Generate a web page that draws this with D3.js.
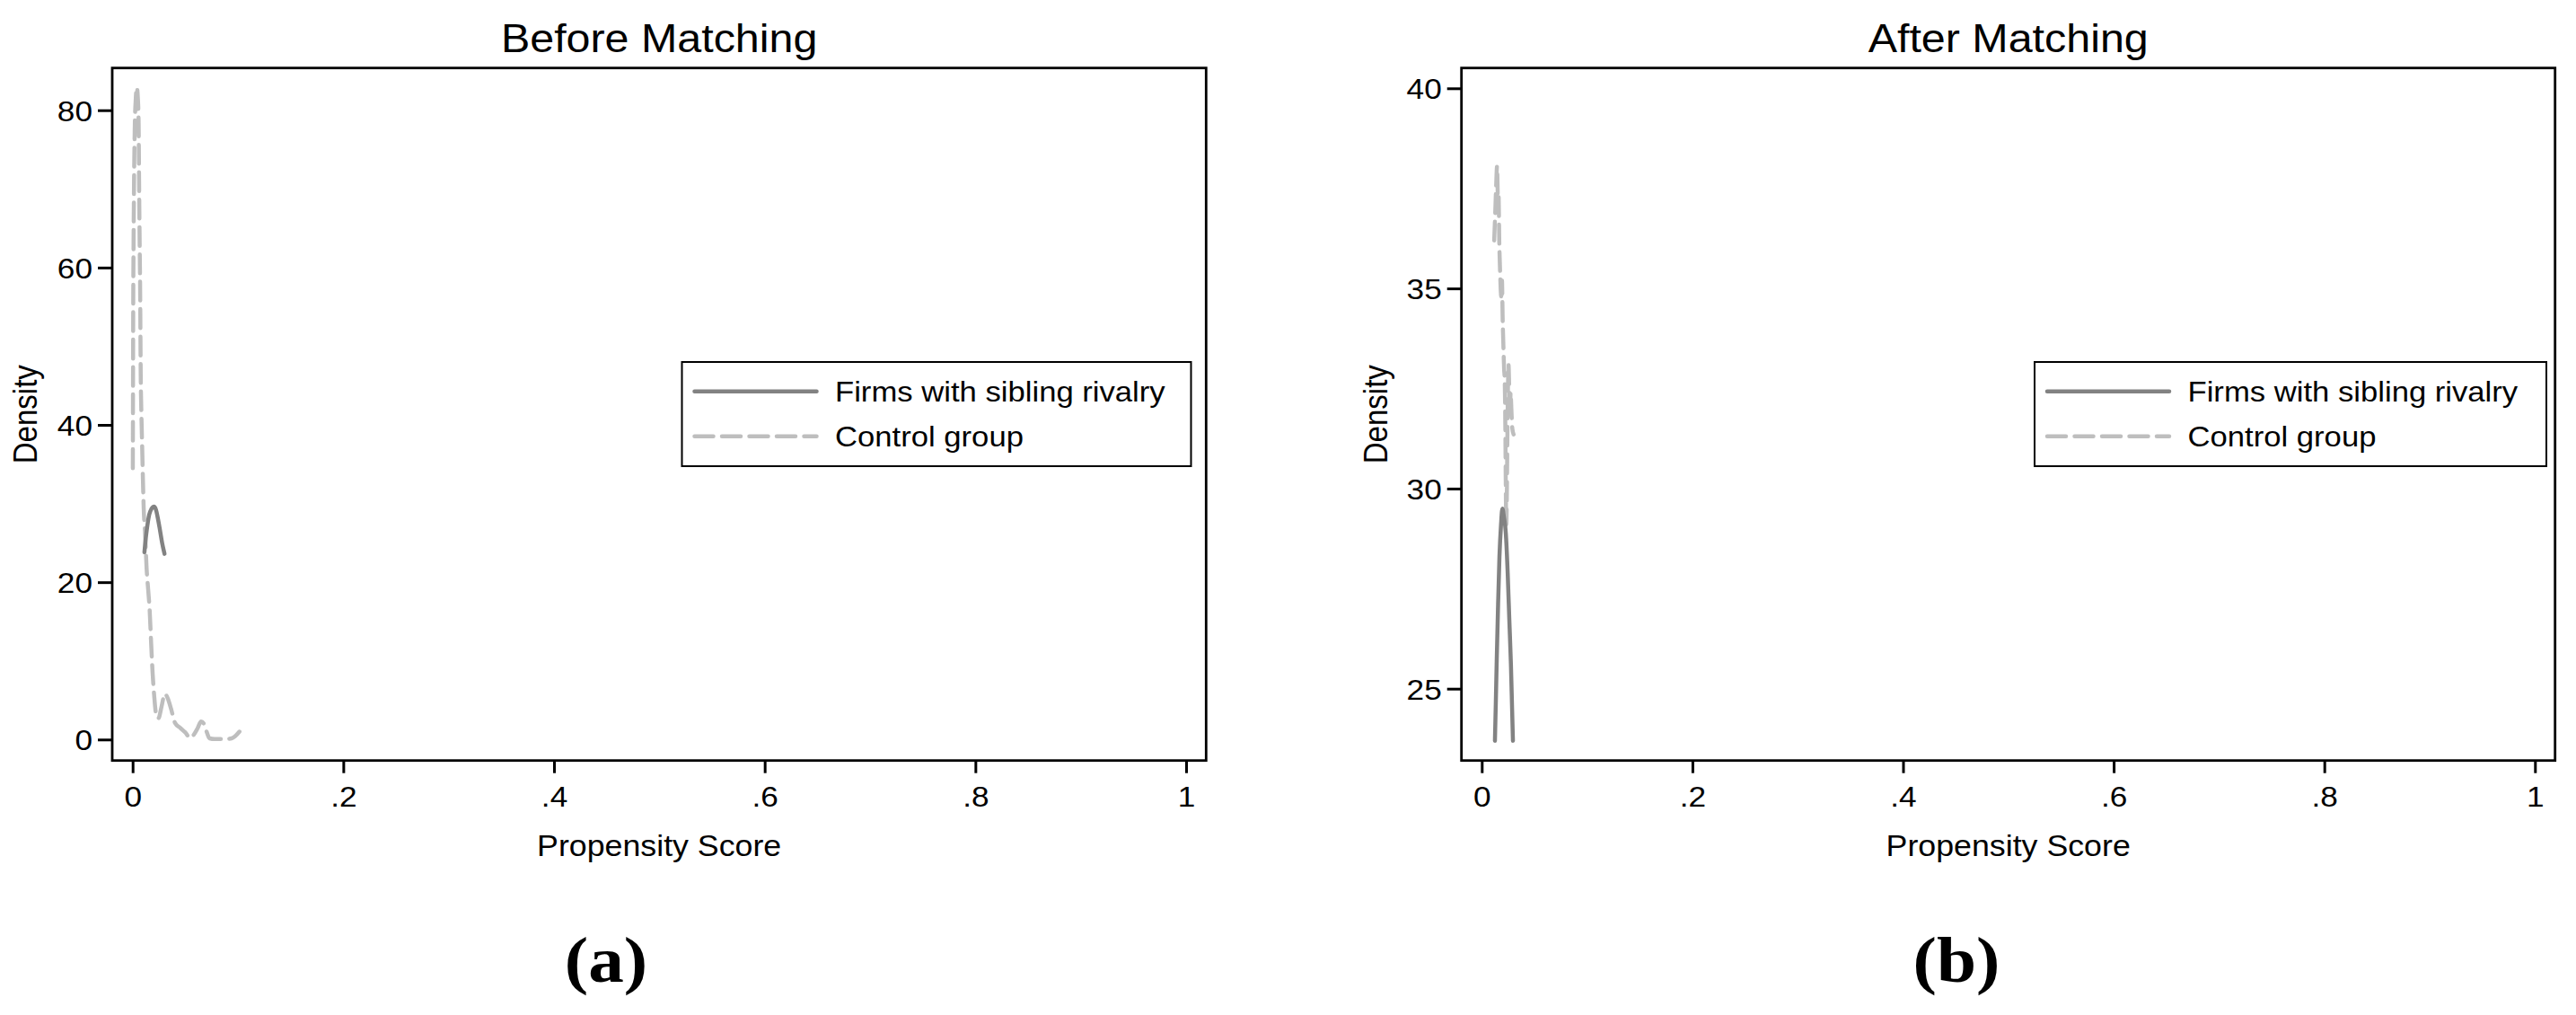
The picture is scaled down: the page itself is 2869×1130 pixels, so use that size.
<!DOCTYPE html>
<html><head><meta charset="utf-8">
<script src="https://cdn.jsdelivr.net/npm/d3@7"></script>
<style>html,body{margin:0;padding:0;background:#fff;} svg{display:block;}</style>
</head><body><svg id="chart" width="2869" height="1130"></svg>
<script>
// ---------------- data ----------------
const xTicks = [0, 0.2, 0.4, 0.6, 0.8, 1];
const xTickLabels = ["0", ".2", ".4", ".6", ".8", "1"];
const yTicksBefore = [0, 20, 40, 60, 80];
const yTicksAfter = [25, 30, 35, 40];
const seriesNames = ["Firms with sibling rivalry", "Control group"];
const panelTitles = ["Before Matching", "After Matching"];
const panelLetters = ["(a)", "(b)"];
const xAxisTitle = "Propensity Score";
const yAxisTitle = "Density";

// [propensity score, density]
const treatedBefore = [[0.0112,23.8],[0.0125,25.6],[0.014,27.2],[0.0158,28.6],[0.0178,29.3],[0.0203,29.6],[0.0222,29.2],[0.024,28.1],[0.026,26.6],[0.028,25.0],[0.0303,23.6]];
const controlBefore = [[0.0002,34.5],[0.0004,46],[0.0006,56],[0.0009,63],[0.0013,70],[0.002,77.5],[0.003,81.5],[0.004,82.9],[0.005,81.5],[0.0057,78.4],[0.0062,70],[0.0067,63],[0.0071,58],[0.0077,46.4],[0.0084,41],[0.009,37.6],[0.0098,33],[0.0105,29.5],[0.0119,26],[0.0133,21.7],[0.0148,19],[0.0162,16.4],[0.0176,12.2],[0.019,8.4],[0.0204,5.7],[0.0222,3.3],[0.0245,2.7],[0.0275,4.2],[0.0305,5.8],[0.0335,5.2],[0.0365,3.9],[0.0403,2.1],[0.045,1.5],[0.05,0.9],[0.0545,0.2],[0.058,0.6],[0.0616,1.4],[0.065,2.3],[0.068,1.9],[0.0705,0.9],[0.073,0.15],[0.078,0.05],[0.0886,0.07],[0.094,0.15],[0.0972,0.4],[0.1014,1.0]];
const treatedAfter = [[0.0125,23.7],[0.0133,24.6],[0.0142,25.7],[0.0155,27.1],[0.0168,28.3],[0.0183,29.1],[0.0196,29.5],[0.021,29.3],[0.0228,28.9],[0.0246,27.9],[0.0262,26.7],[0.0277,25.6],[0.0287,24.6],[0.0296,23.7]];
const controlAfter = [[0.0118,36.2],[0.0128,36.9],[0.0137,37.6],[0.0145,38.05],[0.015,37.6],[0.0155,36.9],[0.016,37.3],[0.0166,36.2],[0.0172,35.6],[0.0178,35.1],[0.0185,34.8],[0.0192,35.2],[0.0198,34.3],[0.0205,33.6],[0.0212,33.0],[0.0218,32.7],[0.0224,31.5],[0.0229,29.8],[0.0233,29.1],[0.0238,29.8],[0.0243,31.2],[0.0248,32.4],[0.0254,33.1],[0.026,32.6],[0.0267,31.8],[0.0274,32.4],[0.0281,32.0],[0.029,31.5],[0.0302,31.35]];

// ---------------- layout ----------------
const SX = 1.1; // horizontal text stretch of the original
const FONT = "'Liberation Sans', Arial, Helvetica, sans-serif";
const colTreated = "#828282", colControl = "#bebebe";
const panels = [
  { frame:[125,75.7,1343.3,846.7], xr:[147.7,1321], yd:[0,80], yr:[823.3,122.7], yTicks:yTicksBefore,
    series:[treatedBefore, controlBefore], legend:{x:759.5,y:403,w:567,h:116}, letterX:675, densX:41 },
  { frame:[1627.7,75.7,2845.7,846.7], xr:[1650.3,2823.3], yd:[25,40], yr:[766.7,98.3], yTicks:yTicksAfter,
    series:[treatedAfter, controlAfter], legend:{x:2266,y:403,w:570,h:116}, letterX:2179, densX:1545 }
];

const svg = d3.select("#chart");
svg.append("rect").attr("width",2869).attr("height",1130).attr("fill","#fff");

function stext(g, x, y, str, size, anchor, extra) {
  return g.append("text")
    .attr("transform", `translate(${x},${y}) scale(${SX},1)` + (extra||""))
    .attr("text-anchor", anchor).attr("font-family", FONT).attr("font-size", size)
    .attr("fill", "#000").text(str);
}

panels.forEach((p, pi) => {
  const [fx0, fy0, fx1, fy1] = p.frame;
  const g = svg.append("g");
  const x = d3.scaleLinear().domain([0,1]).range(p.xr);
  const y = d3.scaleLinear().domain(p.yd).range(p.yr);
  const cx = (fx0+fx1)/2, cy = (fy0+fy1)/2;

  // y axis
  const ya = g.append("g").attr("transform", `translate(${fx0},0)`)
    .call(d3.axisLeft(y).tickValues(p.yTicks).tickSize(16).tickSizeOuter(0).tickFormat(d3.format("d")));
  ya.select(".domain").remove();
  ya.selectAll(".tick line").attr("stroke","#000").attr("stroke-width",3);
  ya.selectAll(".tick text").attr("x",null).attr("dy",null)
    .attr("transform", `translate(-22,11.5) scale(${SX},1)`)
    .attr("font-family", FONT).attr("font-size", 32).attr("fill","#000");
  ya.attr("font-size", 32).attr("font-family", FONT);

  // x axis
  const xa = g.append("g").attr("transform", `translate(0,${fy1})`)
    .call(d3.axisBottom(x).tickValues(xTicks).tickSize(14).tickSizeOuter(0).tickFormat((d,i)=>xTickLabels[i]));
  xa.select(".domain").remove();
  xa.selectAll(".tick line").attr("stroke","#000").attr("stroke-width",3);
  xa.selectAll(".tick text").attr("y",null).attr("dy",null)
    .attr("transform", `translate(0,51.3) scale(${SX},1)`)
    .attr("font-family", FONT).attr("font-size", 32).attr("fill","#000");
  xa.attr("font-size", 32).attr("font-family", FONT);

  // curves
  const line = d3.line().x(d=>x(d[0])).y(d=>y(d[1])).curve(d3.curveMonotoneX);
  g.append("path").datum(p.series[1]).attr("d", line).attr("fill","none")
    .attr("stroke", colControl).attr("stroke-width", 4.5).attr("stroke-dasharray","21,9.5")
    .attr("stroke-linecap","round").attr("stroke-linejoin","round");
  g.append("path").datum(p.series[0]).attr("d", line).attr("fill","none")
    .attr("stroke", colTreated).attr("stroke-width", 4.5)
    .attr("stroke-linecap","round").attr("stroke-linejoin","round");

  // frame
  g.append("rect").attr("x",fx0).attr("y",fy0).attr("width",fx1-fx0).attr("height",fy1-fy0)
    .attr("fill","none").attr("stroke","#000").attr("stroke-width",2.8);

  // legend
  const L = p.legend;
  const lg = g.append("g");
  lg.append("rect").attr("x",L.x).attr("y",L.y).attr("width",L.w).attr("height",L.h)
    .attr("fill","#fff").attr("stroke","#000").attr("stroke-width",2);
  const rows = [L.y+32.7, L.y+82.7];
  lg.append("line").attr("x1",L.x+14).attr("x2",L.x+150).attr("y1",rows[0]).attr("y2",rows[0])
    .attr("stroke",colTreated).attr("stroke-width",4.5).attr("stroke-linecap","round");
  lg.append("line").attr("x1",L.x+14).attr("x2",L.x+150).attr("y1",rows[1]).attr("y2",rows[1])
    .attr("stroke",colControl).attr("stroke-width",4.5).attr("stroke-linecap","round").attr("stroke-dasharray","21,9.5");
  seriesNames.forEach((n,i)=> stext(lg, L.x+170.5, rows[i]+11.3, n, 31.5, "start"));

  // titles
  stext(g, cx, 58, panelTitles[pi], 44, "middle");
  stext(g, cx, 953, xAxisTitle, 32.5, "middle");
  stext(g, p.densX, cy, yAxisTitle, 33, "middle", " rotate(-90)");
  g.append("text").attr("transform", `translate(${p.letterX},1093) scale(${SX},1)`)
    .attr("text-anchor","middle").attr("font-family","'Liberation Serif', 'Times New Roman', serif")
    .attr("font-weight","bold").attr("font-size",72).attr("fill","#000").text(panelLetters[pi]);
});
</script></body></html>
